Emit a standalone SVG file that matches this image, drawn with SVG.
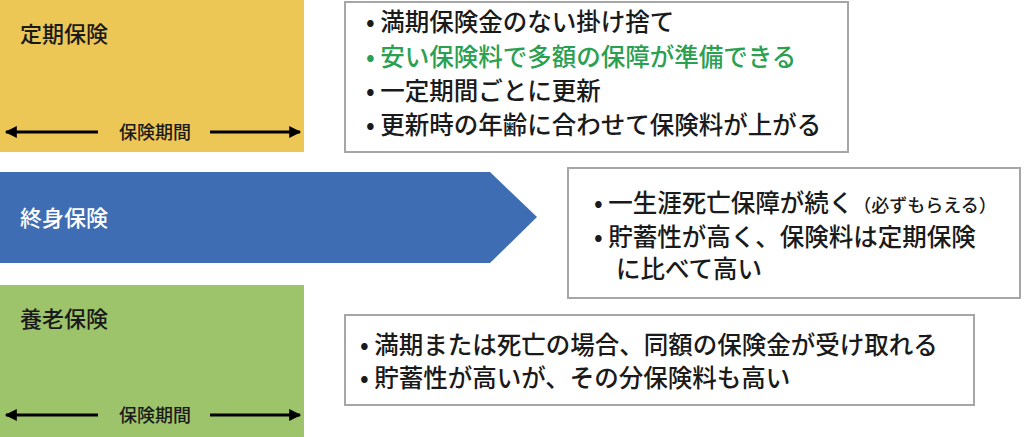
<svg xmlns="http://www.w3.org/2000/svg" width="1024" height="437" viewBox="0 0 1024 437">
<style>
text{font-family:"Noto Sans CJK JP","Noto Sans",sans-serif;fill:#1a1a1a;font-weight:500}
.t{font-size:24.5px}
.h{font-size:22px}
.s{font-size:18px}
.box{fill:#fff;stroke:#a6a6a6;stroke-width:2}
.ar{stroke:#000;stroke-width:3;marker-start:url(#a);marker-end:url(#a)}
</style>
<defs><marker id="a" viewBox="0 0 10 10" refX="9" refY="5" markerWidth="5" markerHeight="4" orient="auto-start-reverse" markerUnits="strokeWidth"><path d="M0,0L10,5L0,10z" fill="#000"/></marker></defs>
<g id="teiki">
<rect x="0" y="0" width="304" height="152" fill="#ecc755"/>
<text class="h" x="20" y="42">定期保険</text>
<text class="s" x="155" y="139" text-anchor="middle">保険期間</text>
</g>
<g id="shushin">
<polygon points="0,172 490,172 537,217 490,263 0,263" fill="#3e6db4"/>
<text class="h" x="20" y="226" style="fill:#fff">終身保険</text>
</g>
<g id="yoro">
<rect x="0" y="285" width="304" height="152" fill="#9dc46b"/>
<text class="h" x="20" y="327">養老保険</text>
<text class="s" x="155" y="422" text-anchor="middle">保険期間</text>
</g>
<g id="box1">
<rect class="box" x="345" y="2" width="503" height="150"/>
<text class="t" x="366" y="31">• 満期保険金のない掛け捨て</text>
<text class="t" x="366" y="66" style="fill:#2aa050">• 安い保険料で多額の保障が準備できる</text>
<text class="t" x="366" y="100">• 一定期間ごとに更新</text>
<text class="t" x="366" y="134">• 更新時の年齢に合わせて保険料が上がる</text>
</g>
<g id="box2">
<rect class="box" x="568" y="168" width="452" height="130"/>
<text class="t" x="594" y="212">• 一生涯死亡保障が続く<tspan style="font-size:18px">（必ずもらえる）</tspan></text>
<text class="t" x="594" y="246">• 貯蓄性が高く、保険料は定期保険</text>
<text class="t" x="616" y="278">に比べて高い</text>
</g>
<g id="box3">
<rect class="box" x="345" y="315" width="629" height="90"/>
<text class="t" x="360" y="354">• 満期または死亡の場合、同額の保険金が受け取れる</text>
<text class="t" x="360" y="387">• 貯蓄性が高いが、その分保険料も高い</text>
</g>
<g id="connectors">
<line class="ar" x1="6" y1="132" x2="98" y2="132" style="marker-end:none"/>
<line class="ar" x1="210" y1="132" x2="300" y2="132" style="marker-start:none"/>
<line class="ar" x1="6" y1="415" x2="98" y2="415" style="marker-end:none"/>
<line class="ar" x1="210" y1="415" x2="300" y2="415" style="marker-start:none"/>
</g>
</svg>
